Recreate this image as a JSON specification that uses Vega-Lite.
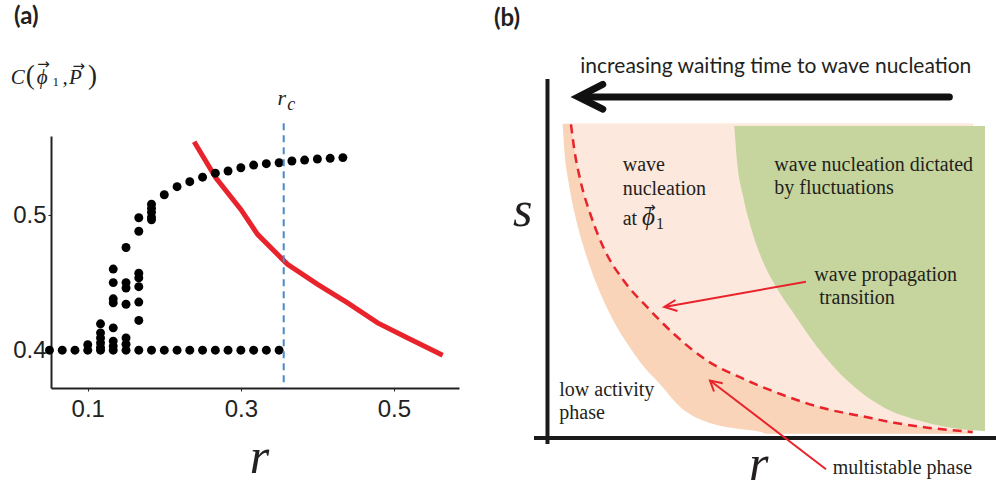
{
  "$schema": "https://vega.github.io/schema/vega-lite/v6.json",
  "padding": {"left": 10, "top": 5, "right": 0, "bottom": 0},
  "spacing": 35,
  "background": "white",
  "config": {"view": {"stroke": null}},
  "datasets": {
    "aPts": [
      {"r":0.05,"C":0.4},{"r":0.0667,"C":0.4},{"r":0.0833,"C":0.4},{"r":0.1,"C":0.4},{"r":0.1167,"C":0.4},{"r":0.1333,"C":0.4},{"r":0.15,"C":0.4},{"r":0.1667,"C":0.4},{"r":0.1833,"C":0.4},{"r":0.2,"C":0.4},{"r":0.2167,"C":0.4},{"r":0.2333,"C":0.4},{"r":0.25,"C":0.4},{"r":0.2667,"C":0.4},{"r":0.2833,"C":0.4},{"r":0.3,"C":0.4},{"r":0.3167,"C":0.4},{"r":0.3333,"C":0.4},{"r":0.35,"C":0.4},
      {"r":0.1,"C":0.404},
      {"r":0.1167,"C":0.4195},{"r":0.1167,"C":0.4128},{"r":0.1167,"C":0.409},{"r":0.1167,"C":0.4054},{"r":0.1167,"C":0.402},
      {"r":0.1333,"C":0.46},{"r":0.1333,"C":0.45},{"r":0.1333,"C":0.438},{"r":0.1333,"C":0.435},{"r":0.1333,"C":0.4165},{"r":0.1333,"C":0.4067},{"r":0.1333,"C":0.403},
      {"r":0.15,"C":0.476},{"r":0.15,"C":0.45},{"r":0.15,"C":0.446},{"r":0.15,"C":0.434},{"r":0.15,"C":0.409},{"r":0.15,"C":0.4044},
      {"r":0.1667,"C":0.498},{"r":0.1667,"C":0.488},{"r":0.1667,"C":0.457},{"r":0.1667,"C":0.4535},{"r":0.1667,"C":0.447},{"r":0.1667,"C":0.4356},{"r":0.1667,"C":0.422},
      {"r":0.1833,"C":0.508},{"r":0.1833,"C":0.505},{"r":0.1833,"C":0.502},{"r":0.1833,"C":0.4985},{"r":0.1833,"C":0.4965},
      {"r":0.2,"C":0.515},{"r":0.2167,"C":0.521},{"r":0.2333,"C":0.5247},{"r":0.25,"C":0.528},{"r":0.2667,"C":0.531},{"r":0.2833,"C":0.5326},{"r":0.3,"C":0.535},{"r":0.3167,"C":0.537},{"r":0.3333,"C":0.538},{"r":0.35,"C":0.5387},{"r":0.3667,"C":0.54},{"r":0.3833,"C":0.5407},{"r":0.4,"C":0.5415},{"r":0.4167,"C":0.542},{"r":0.4333,"C":0.5425}
    ],
    "aLine": [
      {"r":0.239,"C":0.5543},{"r":0.2673,"C":0.5276},{"r":0.3,"C":0.5042},{"r":0.3218,"C":0.4857},{"r":0.3545,"C":0.4672},{"r":0.361,"C":0.4635},{"r":0.4003,"C":0.4487},{"r":0.4395,"C":0.435},{"r":0.4787,"C":0.4202},{"r":0.518,"C":0.409},{"r":0.5637,"C":0.3963}
    ],
    "aRule": [{"r":0.356,"C":0.568,"C2":0.372}],
    "aRcMain": [{"t":"r","r":0.348,"C":0.5815}],
    "aRcSub": [{"t":"c","r":0.3605,"C":0.5776}],
    "aLabIt": [
      {"t":"C","r":-0.0007,"C":0.5968},{"t":"ϕ","r":0.0333,"C":0.5968},{"t":",","r":0.0669,"C":0.5968},{"t":"P","r":0.0756,"C":0.5968}
    ],
    "aLabPar": [{"t":"(","r":0.019,"C":0.597},{"t":")","r":0.1004,"C":0.597}],
    "aLabSub": [{"t":"1","r":0.0539,"C":0.5956}],
    "aLabArr": [{"t":"→","r":0.0342,"C":0.6078},{"t":"→","r":0.08,"C":0.6067}],
    "bDark": [
      {"u":0.338,"v":8.739},{"u":0.374,"v":8.042},{"u":0.472,"v":7.112},{"u":0.618,"v":6.185},{"u":0.819,"v":5.258},{"u":1.079,"v":4.328},{"u":1.413,"v":3.4},{"u":1.858,"v":2.473},{"u":2.191,"v":1.916},{"u":2.458,"v":1.562},{"u":2.97,"v":0.847},{"u":3.704,"v":0.384},{"u":4.305,"v":0.245},{"u":4.75,"v":0.17},{"u":4.86,"v":0.123},{"u":9.466,"v":0.123}
    ],
    "bPeach": [
      {"u":0.523,"v":8.739},{"u":0.596,"v":8.042},{"u":0.745,"v":7.112},{"u":0.968,"v":6.185},{"u":1.264,"v":5.258},{"u":1.702,"v":4.375},{"u":2.229,"v":3.631},{"u":2.821,"v":2.891},{"u":3.564,"v":2.147},{"u":4.305,"v":1.682},{"u":5.195,"v":1.22},{"u":6.234,"v":0.802},{"u":6.975,"v":0.615},{"u":7.715,"v":0.429},{"u":8.458,"v":0.29},{"u":9.459,"v":0.17}
    ],
    "bGreen": [
      {"u":4.156,"v":8.691},{"u":4.216,"v":7.717},{"u":4.343,"v":6.789},{"u":4.527,"v":5.859},{"u":4.788,"v":4.932},{"u":5.061,"v":4.263},{"u":5.491,"v":3.448},{"u":6.011,"v":2.517},{"u":6.679,"v":1.59},{"u":7.493,"v":0.847},{"u":8.309,"v":0.476},{"u":9.199,"v":0.245},{"u":9.733,"v":0.198}
    ],
    "bAxes": [
      {"u":0,"v":-0.1643,"u2":0,"v2":10},
      {"u":-0.3,"v":0,"u2":10,"v2":0}
    ],
    "bShaft": [{"u":8.94,"v":9.5,"u2":0.81,"v2":9.5}],
    "bChevron": [{"u":1.23,"v":9.85,"o":1},{"u":0.685,"v":9.5,"o":2},{"u":1.23,"v":9.16,"o":3}],
    "bRed": [
      {"u":5.751,"v":4.355,"u2":2.598,"v2":3.651},
      {"u":6.196,"v":-0.869,"u2":3.615,"v2":1.604}
    ],
    "bHeads": [
      {"id":"a","u":2.848,"v":3.846,"o":1},{"id":"a","u":2.598,"v":3.651,"o":2},{"id":"a","u":2.892,"v":3.539,"o":3},
      {"id":"b","u":3.704,"v":1.298,"o":1},{"id":"b","u":3.615,"v":1.604,"o":2},{"id":"b","u":3.898,"v":1.526,"o":3}
    ],
    "bText": [
      {"t":"wave","u":1.673,"v":7.438},
      {"t":"nucleation","u":1.673,"v":6.761},
      {"t":"at","u":1.673,"v":5.926},
      {"t":"wave nucleation dictated","u":5.046,"v":7.438},
      {"t":"by fluctuations","u":5.046,"v":6.806},
      {"t":"wave propagation","u":5.936,"v":4.375},
      {"t":"transition","u":6.047,"v":3.726},
      {"t":"low activity","u":0.263,"v":1.172},
      {"t":"phase","u":0.263,"v":0.524},
      {"t":"multistable phase","u":6.345,"v":-1.008}
    ],
    "bPhi": [{"t":"ϕ","u":2.102,"v":5.926}],
    "bPhiSub": [{"t":"1","u":2.414,"v":5.815}],
    "bPhiArr": [{"t":"→","u":2.147,"v":6.288}],
    "bVars": [{"t":"s","u":-0.768,"v":5.906},{"t":"r","u":4.483,"v":-1.167}],
    "bTop": [{"t":"increasing waiting time to wave nucleation","u":0.73,"v":10.159}]
  },
  "hconcat": [
    {
      "width": 408,
      "height": 252,
      "title": {"text": "(a)", "anchor": "start", "frame": "group", "dx": -37, "offset": 28, "font": "Lato", "fontSize": 24, "fontWeight": "bold", "color": "#231f20"},
      "encoding": {
        "x": {"field": "r", "type": "quantitative",
          "scale": {"domain": [0.052, 0.585], "nice": false, "zero": false},
          "axis": {"values": [0.1, 0.3, 0.5], "format": ".1f", "grid": false,
            "labelFont": "Liberation Sans", "labelFontSize": 24, "labelColor": "#222", "labelPadding": 6,
            "tickSize": 3, "tickColor": "#222", "domainColor": "#222", "domainWidth": 2,
            "title": "r", "titleFont": "Liberation Serif", "titleFontStyle": "italic", "titleFontWeight": "normal",
            "titleFontSize": 50, "titleColor": "#222", "titleX": 208, "titleY": 84, "titleBaseline": "alphabetic", "titleAlign": "center"}},
        "y": {"field": "C", "type": "quantitative",
          "scale": {"domain": [0.372, 0.5585], "nice": false, "zero": false},
          "axis": {"values": [0.4, 0.5], "format": ".1f", "grid": false,
            "labelFont": "Liberation Sans", "labelFontSize": 24, "labelColor": "#222", "labelPadding": 2,
            "tickSize": 3, "tickColor": "#222", "domainColor": "#222", "domainWidth": 2,
            "title": null}}
      },
      "layer": [
        {"data": {"name": "aLine"}, "mark": {"type": "line", "color": "#e8232b", "strokeWidth": 5}},
        {"data": {"name": "aPts"}, "mark": {"type": "point", "filled": true, "color": "#000000", "size": 80, "opacity": 1}},
        {"data": {"name": "aRule"}, "mark": {"type": "rule", "color": "#4a88c8", "strokeWidth": 2, "strokeDash": [7, 5]},
          "encoding": {"y2": {"field": "C2"}}},
        {"data": {"name": "aRcMain"},
          "mark": {"type": "text", "font": "Liberation Serif", "fontStyle": "italic", "fontSize": 22, "align": "left", "baseline": "alphabetic", "color": "#222"},
          "encoding": {"text": {"field": "t"}}},
        {"data": {"name": "aRcSub"},
          "mark": {"type": "text", "font": "Liberation Serif", "fontStyle": "italic", "fontSize": 18, "align": "left", "baseline": "alphabetic", "color": "#222"},
          "encoding": {"text": {"field": "t"}}},
        {"data": {"name": "aLabIt"},
          "mark": {"type": "text", "font": "Liberation Serif", "fontStyle": "italic", "fontSize": 21, "align": "left", "baseline": "alphabetic", "color": "#222"},
          "encoding": {"text": {"field": "t"}}},
        {"data": {"name": "aLabPar"},
          "mark": {"type": "text", "font": "Liberation Serif", "fontSize": 27, "align": "left", "baseline": "alphabetic", "color": "#222"},
          "encoding": {"text": {"field": "t"}}},
        {"data": {"name": "aLabSub"},
          "mark": {"type": "text", "font": "Liberation Serif", "fontSize": 13, "align": "left", "baseline": "alphabetic", "color": "#222"},
          "encoding": {"text": {"field": "t"}}},
        {"data": {"name": "aLabArr"},
          "mark": {"type": "text", "font": "DejaVu Sans", "fontSize": 15, "align": "left", "baseline": "alphabetic", "color": "#222"},
          "encoding": {"text": {"field": "t"}}}
      ]
    },
    {
      "width": 463,
      "height": 308,
      "title": {"text": "(b)", "anchor": "start", "frame": "group", "dx": -40, "offset": 25, "font": "Lato", "fontSize": 24, "fontWeight": "bold", "color": "#231f20"},
      "encoding": {
        "x": {"field": "u", "type": "quantitative", "scale": {"domain": [-0.3, 10], "nice": false, "zero": false}, "axis": null},
        "y": {"field": "v", "type": "quantitative", "scale": {"domain": [-0.1643, 8.413], "nice": false, "zero": false}, "axis": null}
      },
      "layer": [
        {"data": {"name": "bDark"}, "mark": {"type": "area", "color": "#f9d4b8", "opacity": 1, "interpolate": "monotone"},
          "encoding": {"y2": {"datum": 8.755}}},
        {"data": {"name": "bPeach"}, "mark": {"type": "area", "color": "#fce8dc", "opacity": 1, "interpolate": "monotone"},
          "encoding": {"y2": {"datum": 8.755}}},
        {"data": {"name": "bGreen"}, "mark": {"type": "area", "color": "#c6d59d", "opacity": 1, "interpolate": "monotone"},
          "encoding": {"y2": {"datum": 8.691}}},
        {"data": {"name": "bPeach"}, "mark": {"type": "line", "color": "#e8232b", "strokeWidth": 2.5, "strokeDash": [9, 6], "interpolate": "monotone"}},
        {"data": {"name": "bAxes"}, "mark": {"type": "rule", "color": "#1a1a1a", "strokeWidth": 4},
          "encoding": {"x2": {"field": "u2"}, "y2": {"field": "v2"}}},
        {"data": {"name": "bShaft"}, "mark": {"type": "rule", "color": "#111111", "strokeWidth": 7, "strokeCap": "round"},
          "encoding": {"x2": {"field": "u2"}, "y2": {"field": "v2"}}},
        {"data": {"name": "bChevron"}, "mark": {"type": "line", "color": "#111111", "strokeWidth": 7, "strokeCap": "round", "strokeJoin": "miter"},
          "encoding": {"order": {"field": "o"}}},
        {"data": {"name": "bRed"}, "mark": {"type": "rule", "color": "#e8232b", "strokeWidth": 2},
          "encoding": {"x2": {"field": "u2"}, "y2": {"field": "v2"}}},
        {"data": {"name": "bHeads"}, "mark": {"type": "line", "color": "#e8232b", "strokeWidth": 2},
          "encoding": {"detail": {"field": "id"}, "order": {"field": "o"}}},
        {"data": {"name": "bText"}, "mark": {"type": "text", "font": "Liberation Serif", "fontSize": 20, "align": "left", "baseline": "alphabetic", "color": "#231f20"},
          "encoding": {"text": {"field": "t"}}},
        {"data": {"name": "bPhi"}, "mark": {"type": "text", "font": "Liberation Serif", "fontStyle": "italic", "fontSize": 25, "align": "left", "baseline": "alphabetic", "color": "#231f20"},
          "encoding": {"text": {"field": "t"}}},
        {"data": {"name": "bPhiSub"}, "mark": {"type": "text", "font": "Liberation Serif", "fontSize": 16, "align": "left", "baseline": "alphabetic", "color": "#231f20"},
          "encoding": {"text": {"field": "t"}}},
        {"data": {"name": "bPhiArr"}, "mark": {"type": "text", "font": "DejaVu Sans", "fontSize": 14, "align": "left", "baseline": "alphabetic", "color": "#231f20"},
          "encoding": {"text": {"field": "t"}}},
        {"data": {"name": "bVars"}, "mark": {"type": "text", "font": "Liberation Serif", "fontStyle": "italic", "fontSize": 50, "align": "left", "baseline": "alphabetic", "color": "#231f20"},
          "encoding": {"text": {"field": "t"}}},
        {"data": {"name": "bTop"}, "mark": {"type": "text", "font": "Lato", "fontSize": 21, "align": "left", "baseline": "alphabetic", "color": "#231f20"},
          "encoding": {"text": {"field": "t"}}}
      ]
    }
  ]
}
